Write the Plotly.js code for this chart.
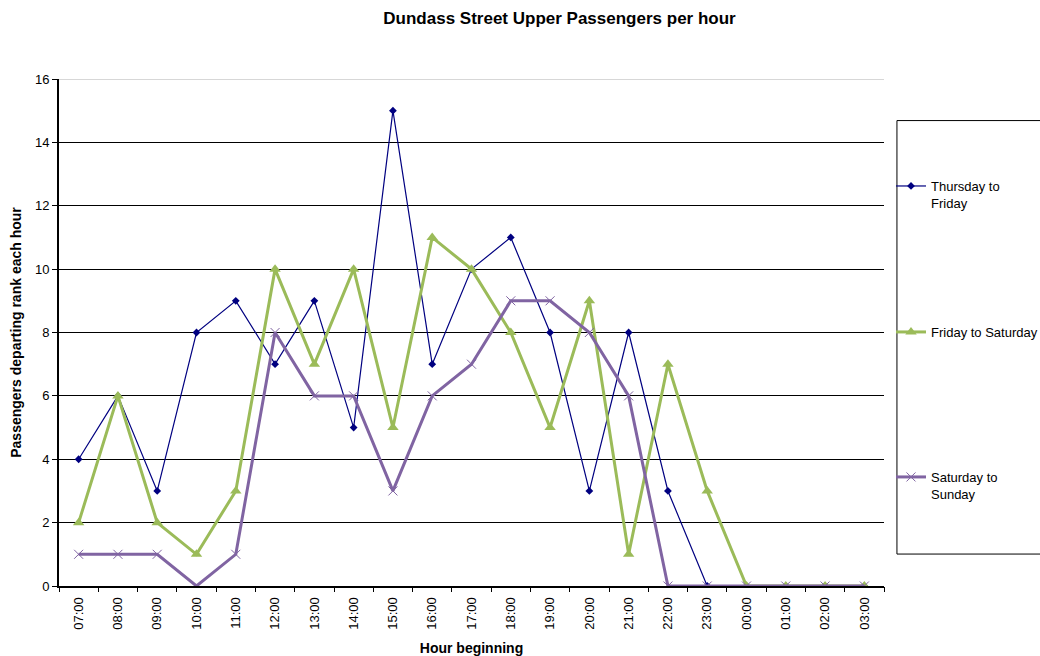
<!DOCTYPE html>
<html><head><meta charset="utf-8">
<script src="https://cdn.plot.ly/plotly-3.0.1.min.js"></script>
<style>html,body{margin:0;padding:0;background:#fff;}#chart{width:1040px;height:656px;}</style>
</head><body><div id="chart"></div>
<script>
const hours = ["07:00","08:00","09:00","10:00","11:00","12:00","13:00","14:00","15:00","16:00","17:00","18:00","19:00","20:00","21:00","22:00","23:00","00:00","01:00","02:00","03:00"];
const thuFri = [4,6,3,8,9,7,9,5,15,7,10,11,8,3,8,3,0,0,0,0,0];
const friSat = [2,6,2,1,3,10,7,10,5,11,10,8,5,9,1,7,3,0,0,0,0];
const satSun = [1,1,1,0,1,8,6,6,3,6,7,9,9,8,6,0,0,0,0,0,0];
const seriesNames = ["Thursday to<br>Friday","Friday to Saturday","Saturday to<br>Sunday"];
const yTicks = [0,2,4,6,8,10,12,14,16];

const font = "Liberation Sans, Arial, sans-serif";
const idx = hours.map((_, i) => i);

const traces = [
  {x: idx, y: thuFri, name: seriesNames[0], type: 'scatter', mode: 'lines+markers', legend: 'legend',
   line: {color: '#000080', width: 1.2}, marker: {symbol: 'diamond', size: 6, color: '#000080'}},
  {x: idx, y: friSat, name: seriesNames[1], type: 'scatter', mode: 'lines+markers', legend: 'legend2',
   line: {color: '#9BBB59', width: 3}, marker: {symbol: 'triangle-up', size: 10, color: '#9BBB59'}},
  {x: idx, y: satSun, name: seriesNames[2], type: 'scatter', mode: 'lines+markers', legend: 'legend3',
   line: {color: '#8064A2', width: 3}, marker: {symbol: 'x-thin', size: 9, line: {color: '#8064A2', width: 1}, color: '#8064A2'}}
];

function leg(y) {
  return {x: 1.0085, xanchor: 'left', y: y, yanchor: 'top', yref: 'paper', valign: 'top',
          bgcolor: 'rgba(0,0,0,0)', borderwidth: 0, font: {family: font, size: 13}, itemwidth: 30};
}

const layout = {
  width: 1040, height: 656,
  margin: {l: 59, r: 156, t: 79, b: 70, autoexpand: false},
  paper_bgcolor: '#fff', plot_bgcolor: '#fff',
  font: {family: font, size: 13, color: '#000'},
  title: {text: '<b>Dundass Street Upper Passengers per hour</b>', font: {family: font, size: 17, color: '#000'},
          xref: 'container', x: 0.538, xanchor: 'center', yref: 'container', y: 0.972, yanchor: 'middle'},
  xaxis: {
    range: [-0.5, 20.5], tickmode: 'array', tickvals: idx, ticktext: hours, tickangle: -90,
    showgrid: false, zeroline: false, showline: true, linecolor: '#000', linewidth: 2,
    ticks: '', ticklabelstandoff: 4, tickfont: {family: font, size: 13},
    title: {text: '<b>Hour beginning</b>', font: {family: font, size: 14}, standoff: 14}
  },
  xaxis2: {
    overlaying: 'x', range: [-0.5, 20.5], tickmode: 'array', tickvals: idx.map(v => v + 0.5).concat([-0.5]),
    ticks: 'outside', ticklen: 5, tickcolor: '#000', tickwidth: 1, showticklabels: false,
    showgrid: false, zeroline: false, showline: false, anchor: 'y'
  },
  yaxis: {
    range: [0, 16], tickmode: 'array', tickvals: yTicks, ticks: 'outside', ticklen: 5, tickcolor: '#000',
    showgrid: true, gridcolor: '#000', gridwidth: 1, zeroline: false,
    showline: true, linecolor: '#000', linewidth: 2, tickfont: {family: font, size: 13},
    title: {text: '<b>Passengers departing rank each hour</b>', font: {family: font, size: 14}, standoff: 10}
  },
  showlegend: true,
  legend: leg(0.8185),
  legend2: leg(0.5306),
  legend3: leg(0.2446),
  shapes: [
    {type: 'rect', xref: 'paper', yref: 'paper', x0: 1.0157, x1: 1.2, y0: 0.063, y1: 0.918,
     line: {color: '#000', width: 1}, fillcolor: 'rgba(0,0,0,0)', layer: 'below'},
    {type: 'line', xref: 'paper', yref: 'y', x0: 0, x1: 1, y0: 16, y1: 16, line: {color: '#b0b0b0', width: 1}}
  ]
};

const tickTrace = {x: [0], y: [0], xaxis: 'x2', yaxis: 'y', mode: 'markers', marker: {opacity: 0}, showlegend: false, hoverinfo: 'skip'};

Plotly.newPlot('chart', traces.concat([tickTrace]), layout, {displayModeBar: false, staticPlot: true});
</script></body></html>
